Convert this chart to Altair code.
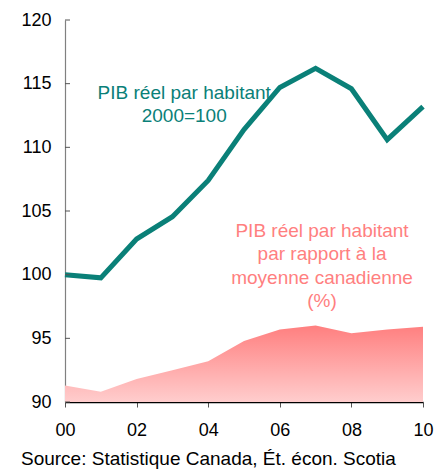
import altair as alt
import pandas as pd

years = list(range(2000, 2011))
pib_index = [100.0, 99.75, 102.8, 104.55, 107.4, 111.4, 114.7, 116.2, 114.6, 110.6, 113.2]
pib_ratio = [91.3, 90.8, 91.8, 92.5, 93.2, 94.8, 95.7, 96.0, 95.4, 95.7, 95.9]
y_ticks = [90, 95, 100, 105, 110, 115, 120]
x_ticks = [2000, 2002, 2004, 2006, 2008, 2010]

teal_lines = ["PIB réel par habitant", "2000=100"]
teal_x = [2003.33, 2003.33]
teal_y = [114.3, 112.5]
pink_lines = ["PIB réel par habitant", "par rapport à la", "moyenne canadienne", "(%)"]
pink_x = [2007.18, 2007.18, 2007.18, 2007.18]
pink_y = [103.45, 101.6, 99.75, 97.9]
source = "Source: Statistique Canada, Ét. écon. Scotia"

TEAL = "#0A8078"
PINK = "#FF7F7F"
FONT = "Liberation Sans"

df = pd.DataFrame({"year": years, "index": pib_index, "ratio": pib_ratio})
ticks_df = pd.DataFrame({"v": y_ticks})
ann_t = pd.DataFrame({"x": teal_x, "y": teal_y, "t": teal_lines})
ann_p = pd.DataFrame({"x": pink_x, "y": pink_y, "t": pink_lines})

xs = alt.Scale(domain=[2000, 2010], nice=False)
ys = alt.Scale(domain=[90, 120], nice=False, zero=False)

xax = alt.Axis(values=x_ticks, labelExpr="substring(toString(datum.value), 2)",
               title=None, grid=False, domainColor="#000000", domainWidth=1.5,
               tickColor="#555555", tickSize=5, labelPadding=14, labelFontSize=18,
               labelFont=FONT, labelColor="#000000", labelFlush=False)
yax = alt.Axis(values=y_ticks, title=None, grid=False, ticks=False,
               domainColor="#808080", domainWidth=1.2, labelPadding=14,
               labelFontSize=18, labelFont=FONT, labelColor="#000000")

area = alt.Chart(df).mark_area(
    color=alt.Gradient(gradient="linear",
                       stops=[alt.GradientStop(color="#FFCDCD", offset=0),
                              alt.GradientStop(color="#FF7F7F", offset=1)],
                       x1=1, x2=1, y1=1, y2=0)
).encode(
    x=alt.X("year:Q", scale=xs, axis=xax),
    y=alt.Y("ratio:Q", scale=ys, axis=yax),
    y2=alt.datum(y_ticks[0]),
)

line = alt.Chart(df).mark_line(color=TEAL, strokeWidth=5, strokeJoin="miter").encode(
    x=alt.X("year:Q", scale=xs), y=alt.Y("index:Q", scale=ys)
)

yt = alt.Chart(ticks_df).mark_rule(color="#555555", strokeWidth=1).encode(
    y=alt.Y("v:Q", scale=ys), x=alt.value(0), x2=alt.value(5)
)

t1 = alt.Chart(ann_t).mark_text(color=TEAL, fontSize=19, font=FONT, align="center", baseline="middle").encode(
    x=alt.X("x:Q", scale=xs), y=alt.Y("y:Q", scale=ys), text="t:N"
)
t2 = alt.Chart(ann_p).mark_text(color=PINK, fontSize=19, font=FONT, align="center", baseline="middle").encode(
    x=alt.X("x:Q", scale=xs), y=alt.Y("y:Q", scale=ys), text="t:N"
)

chart = alt.layer(area, line, yt, t1, t2).properties(
    width=358, height=382,
    autosize=alt.AutoSizeParams(type="none"),
    padding={"left": 57, "top": 12, "right": 16, "bottom": 68},
    title=alt.TitleParams(source, orient="bottom", anchor="start", offset=11,
                          fontSize=19, font=FONT, fontWeight="normal", color="#000000"),
).configure_view(stroke=None)

chart.save("out.html", embed_options={"renderer": "svg", "actions": False})
